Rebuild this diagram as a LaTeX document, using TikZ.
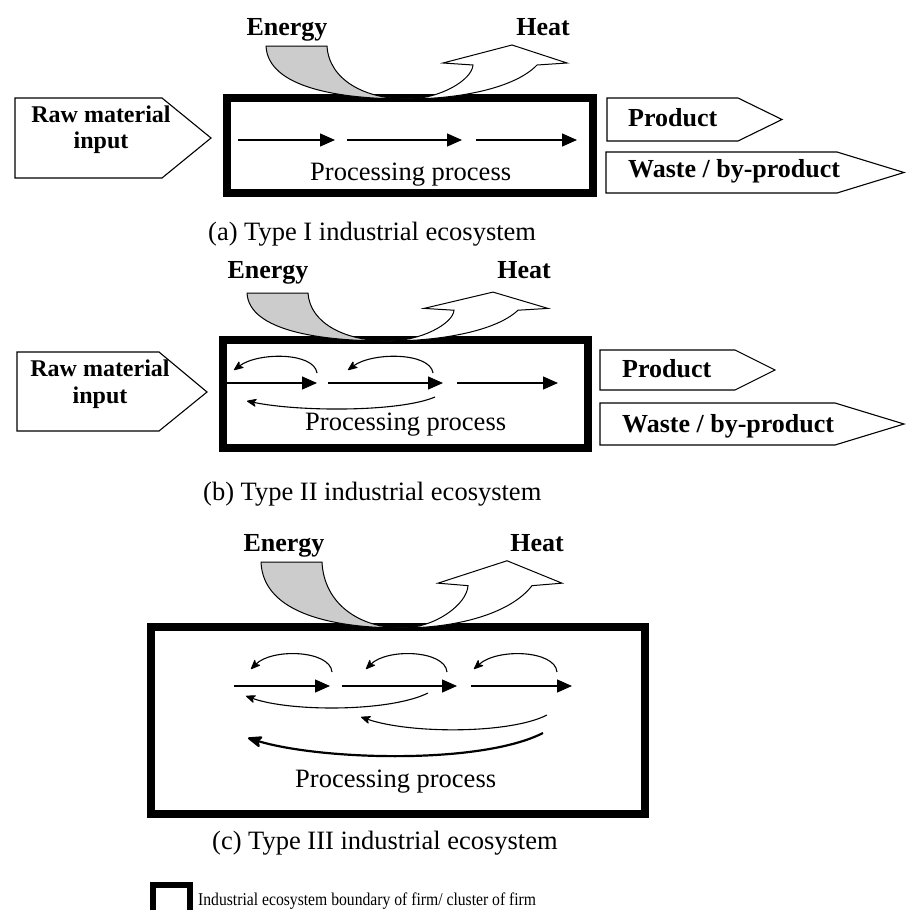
\documentclass[tikz,border=0pt]{standalone}
\usepackage{fontspec}
\setmainfont{Liberation Serif}
\newfontfamily\narrowserif[FakeStretch=0.87]{Liberation Serif}
\usetikzlibrary{arrows.meta}

\tikzset{
  boundary/.style={line width=8pt},
  flowline/.style={line width=1.3pt, -{Triangle[length=15pt,width=13pt]}},
  loopline/.style={line width=1.1pt, -{Stealth[length=11pt,width=9pt,inset=3pt,round]}},
  outbox/.style={draw, line width=1.1pt, fill=white, line join=miter},
  boldlabel/.style={font=\fontsize{26}{30}\selectfont\bfseries, inner sep=0pt, anchor=base},
  rawlabel/.style={font=\fontsize{24}{28}\selectfont\bfseries, inner sep=0pt, anchor=base},
  outlabel/.style={font=\fontsize{26}{30}\selectfont\bfseries, inner sep=0pt, anchor=base west},
  plainlabel/.style={font=\fontsize{26.5}{31}\selectfont, inner sep=0pt, anchor=base west},
  energyband/.style={fill=black!20, draw, line width=1pt, line join=round},
  heatarrow/.style={fill=white, draw, line width=1pt, line join=miter},
}

% Energy in (grey band) and heat out (white arrow), local origin at the
% top-left corner of the energy band, y pointing down
\newcommand{\energyheat}{%
  \path[energyband]
    (0,0) -- (61,0) .. controls (63,34) and (99,53) .. (141,53)
    .. controls (74,53) and (2,42) .. (0,0) -- cycle;
  \path[heatarrow]
    (141,53) .. controls (194,53) and (249,42) .. (271,19)
    -- (301,17) -- (246,-1) -- (177,17) -- (207,19)
    .. controls (206,34) and (174,53) .. (141,53) -- cycle;
}

\begin{document}
\begin{tikzpicture}[x=1pt, y=-1pt]
\useasboundingbox (0,0) rectangle (905,910);

% ---------------- (a) Type I ----------------
\node[boldlabel] (energyA) at (287,35) {Energy};
\node[boldlabel] (heatA) at (543,35) {Heat};

\draw[outbox] (15,98) -- (162,98) -- (211,138) -- (162,178) -- (15,178) -- cycle;
\node[rawlabel] (rawA1) at (101,122) {Raw material};
\node[rawlabel] (rawA2) at (101,148) {input};

\draw[boundary] (227,98) rectangle (593,193);
\begin{scope}[shift={(266,46)}]
  \energyheat
\end{scope}

\draw[flowline] (238,140) -- (335,140);
\draw[flowline] (347,140) -- (462,140);
\draw[flowline] (476,140) -- (577,140);
\node[plainlabel] (procA) at (310,180) {Processing process};

\draw[outbox] (607,98) -- (738,98) -- (782,119.5) -- (738,141) -- (607,141) -- cycle;
\node[outlabel] (prodA) at (628,126) {Product};
\draw[outbox] (606,152) -- (837,152) -- (904,172.5) -- (837,193) -- (606,193) -- cycle;
\node[outlabel] (wasteA) at (628,177) {Waste / by-product};

\node[plainlabel] (capA) at (208,240) {(a) Type I industrial ecosystem};

% ---------------- (b) Type II ----------------
\node[boldlabel] (energyB) at (268,278) {Energy};
\node[boldlabel] (heatB) at (524,278) {Heat};

\draw[outbox] (17,352) -- (159,352) -- (207,392) -- (159,431) -- (17,431) -- cycle;
\node[rawlabel] (rawB1) at (100,376) {Raw material};
\node[rawlabel] (rawB2) at (100,403) {input};

\draw[boundary] (223,340) rectangle (588,448);
\begin{scope}[shift={(247,293)}, yscale=0.906]
  \energyheat
\end{scope}

\draw[flowline] (227,383) -- (317,383);
\draw[flowline] (328,383) -- (443,383);
\draw[flowline] (457,383) -- (558,383);
\draw[loopline] (317,373) .. controls (314,352) and (258,352) .. (234,370);
\draw[loopline] (433,373) .. controls (430,352) and (372,352) .. (348,370);
\draw[loopline] (435,397) .. controls (400,412) and (300,412) .. (247,401);
\node[plainlabel] (procB) at (305,430) {Processing process};

\draw[outbox] (600,350) -- (735,350) -- (775,370) -- (735,390) -- (600,390) -- cycle;
\node[outlabel] (prodB) at (622,377) {Product};
\draw[outbox] (600,403) -- (835,403) -- (904,424) -- (835,445) -- (600,445) -- cycle;
\node[outlabel] (wasteB) at (622,432) {Waste / by-product};

\node[plainlabel] (capB) at (203,500) {(b) Type II industrial ecosystem};

% ---------------- (c) Type III ----------------
\node[boldlabel] (energyC) at (284,551) {Energy};
\node[boldlabel] (heatC) at (537,551) {Heat};

\draw[boundary] (151,627) rectangle (645,814);
\begin{scope}[shift={(261,562)}, yscale=1.245]
  \energyheat
\end{scope}

\draw[flowline] (234,686) -- (330,686);
\draw[flowline] (342,686) -- (457,686);
\draw[flowline] (471,686) -- (572,686);
\draw[loopline] (332,672) .. controls (330,650) and (272,648) .. (251,669);
\draw[loopline] (447,672) .. controls (445,650) and (387,648) .. (366,669);
\draw[loopline] (557,672) .. controls (555,650) and (497,648) .. (474,669);
\draw[loopline] (428,693) .. controls (390,712) and (290,712) .. (246,696);
\draw[loopline] (547,715) .. controls (510,734) and (410,734) .. (361,717);
\draw[line width=2.2pt, -{Stealth[length=17pt,width=13pt,inset=4pt,round]}]
  (543,733) .. controls (480,765) and (320,760) .. (248,738);
\node[plainlabel] (procC) at (295,787) {Processing process};

\node[plainlabel] (capC) at (212,849) {(c) Type III industrial ecosystem};

% ---------------- legend ----------------
\draw[line width=6pt] (153,885) rectangle (190,925);
\node[inner sep=0pt, anchor=base west, font=\narrowserif\fontsize{18}{21}\selectfont]
  (legend) at (198,905) {Industrial ecosystem boundary of firm/ cluster of firm};
\end{tikzpicture}
\end{document}
